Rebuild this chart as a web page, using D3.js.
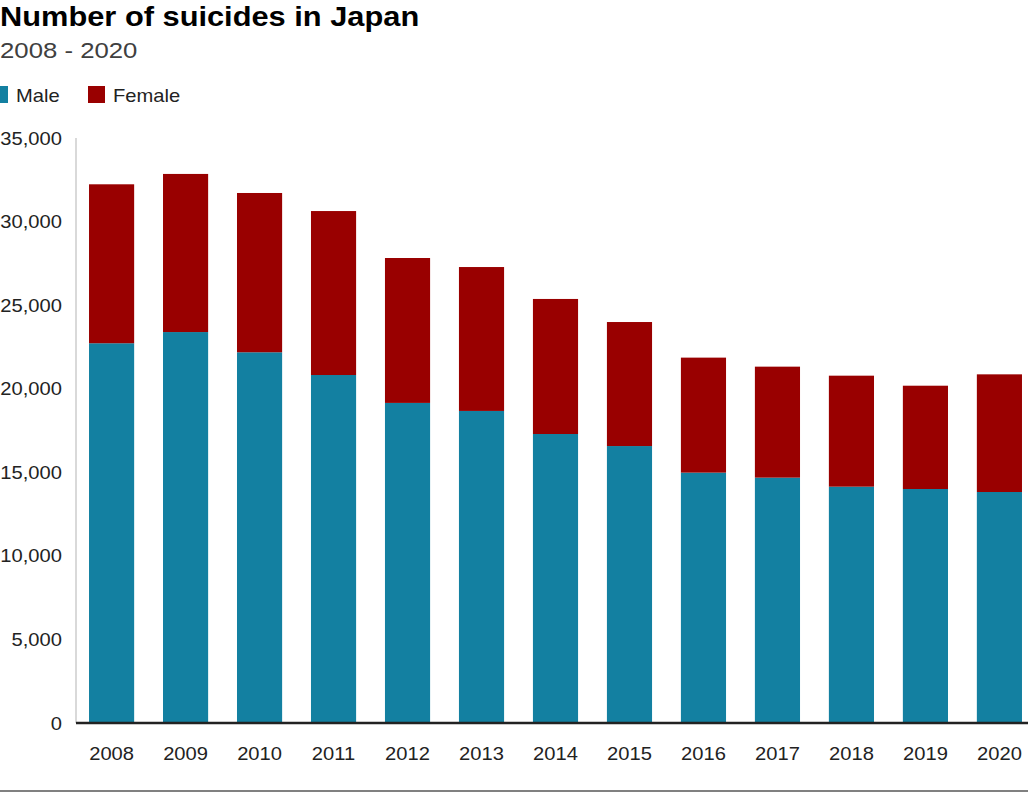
<!DOCTYPE html>
<html>
<head>
<meta charset="utf-8">
<script src="https://cdn.jsdelivr.net/npm/d3@7"></script>
<style>
  html, body { margin: 0; padding: 0; background: #fff; }
  svg { display: block; font-family: "Liberation Sans", Arial, Helvetica, sans-serif; }
</style>
</head>
<body>
<svg id="chart" width="1028" height="794"></svg>
<script>
const years = ["2008","2009","2010","2011","2012","2013","2014","2015","2016","2017","2018","2019","2020"];
const male   = [22720, 23390, 22180, 20820, 19150, 18670, 17290, 16570, 14980, 14680, 14140, 14000, 13820];
const female = [ 9510,  9460,  9530,  9810,  8670,  8610,  8080,  7420,  6880,  6640,  6640,  6180,  7040];
const seriesNames = ["Male", "Female"];
const seriesColors = ["#1380A1", "#990000"];
const yTicks = [0, 5000, 10000, 15000, 20000, 25000, 30000, 35000];
const titleText = "Number of suicides in Japan";
const subtitleText = "2008 - 2020";

const SX = 1.12; // horizontal text stretch to match reference
const svg = d3.select("#chart");

const rows = years.map((y, i) => ({year: y, Male: male[i], Female: female[i]}));
const stack = d3.stack().keys(seriesNames)(rows);

const x = d3.scaleBand().domain(years).range([76, 1035]).paddingInner(0.39).paddingOuter(0.176);
const y = d3.scaleLinear().domain([0, 35000]).range([723, 138]);
const color = d3.scaleOrdinal().domain(seriesNames).range(seriesColors);

// Title & subtitle
svg.append("text").attr("transform", `translate(0,26) scale(${SX},1)`)
  .attr("font-size", 27.5).attr("font-weight", "bold").attr("fill", "#000").text(titleText);
svg.append("text").attr("transform", `translate(0,58) scale(${SX},1)`)
  .attr("font-size", 23).attr("fill", "#404040").text(subtitleText);

// Legend
const legendX = [-9, 88];
seriesNames.forEach((name, i) => {
  svg.append("rect").attr("x", legendX[i]).attr("y", 86).attr("width", 17).attr("height", 17)
    .attr("fill", color(name));
  svg.append("text").attr("transform", `translate(${legendX[i] + 25},102) scale(${SX},1)`)
    .attr("font-size", 18).attr("fill", "#222").text(name);
});

// Vertical axis line
svg.append("line").attr("x1", 76).attr("x2", 76).attr("y1", y(35000)).attr("y2", y(0))
  .attr("stroke", "#d9d9d9").attr("stroke-width", 2);

// Bars
svg.append("g").selectAll("g").data(stack).join("g")
  .attr("fill", d => color(d.key))
  .selectAll("rect").data(d => d).join("rect")
  .attr("x", d => x(d.data.year))
  .attr("width", x.bandwidth())
  .attr("y", d => y(d[1]))
  .attr("height", d => y(d[0]) - y(d[1]));

// Y axis labels
const yAxis = d3.axisLeft(y).tickValues(yTicks).tickSize(0).tickFormat(d3.format(","));
const gy = svg.append("g").attr("transform", "translate(76,0)").call(yAxis);
gy.select(".domain").remove();
gy.selectAll("text").attr("x", 0).attr("dy", "0.34em")
  .attr("transform", `translate(-14,0) scale(${SX},1)`)
  .attr("font-size", 18).attr("font-family", "Liberation Sans, Arial, sans-serif").attr("fill", "#222");

// X axis
const xAxis = d3.axisBottom(x).tickSize(0);
const gx = svg.append("g").attr("transform", "translate(0,723)").call(xAxis);
gx.select(".domain").remove();
gx.selectAll("text").attr("y", 0).attr("dy", 0)
  .attr("transform", `translate(0,37) scale(${SX},1)`)
  .attr("font-size", 18).attr("font-family", "Liberation Sans, Arial, sans-serif").attr("fill", "#222");

// Baseline
svg.append("line").attr("x1", 76).attr("x2", 1028).attr("y1", y(0)).attr("y2", y(0))
  .attr("stroke", "#222").attr("stroke-width", 2.5);

// Bottom rule
svg.append("line").attr("x1", 0).attr("x2", 1028).attr("y1", 791).attr("y2", 791)
  .attr("stroke", "#808080").attr("stroke-width", 2);
</script>
</body>
</html>
